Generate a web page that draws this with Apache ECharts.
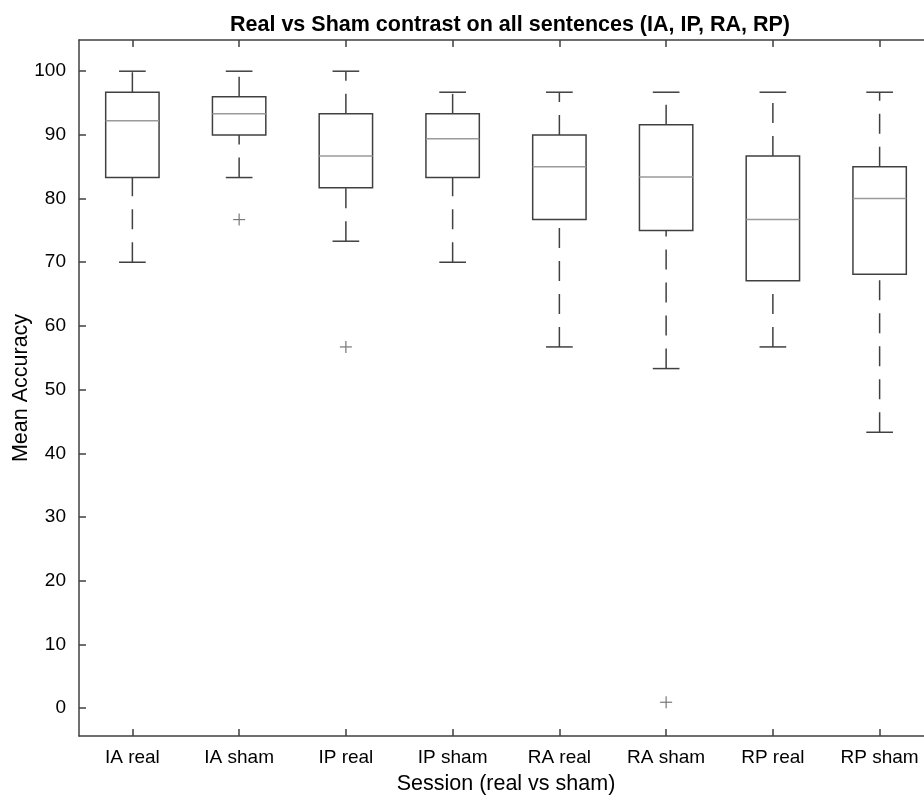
<!DOCTYPE html>
<html>
<head>
<meta charset="utf-8">
<script src="https://cdn.jsdelivr.net/npm/echarts@6/dist/echarts.min.js"></script>
<style>
html,body{margin:0;padding:0;background:#fff;}
#chart{width:924px;height:795px;}
</style>
</head>
<body>
<div id="chart"></div>
<script>
var categories = ['IA real','IA sham','IP real','IP sham','RA real','RA sham','RP real','RP sham'];
var whiskerLow  = [70.0, 83.3, 73.3, 70.0, 56.7, 53.3, 56.7, 43.3];
var q1          = [83.3, 90.0, 81.7, 83.3, 76.7, 75.0, 67.1, 68.1];
var medians     = [92.2, 93.3, 86.7, 89.4, 85.0, 83.4, 76.7, 80.0];
var q3          = [96.7, 96.0, 93.3, 93.3, 90.0, 91.6, 86.7, 85.0];
var whiskerHigh = [100.0, 100.0, 100.0, 96.7, 96.7, 96.7, 96.7, 96.7];
var outlierCat  = [1, 2, 5];
var outlierVal  = [76.7, 56.7, 0.9];
var yTicks = [0,10,20,30,40,50,60,70,80,90,100];

var FONT = '"Liberation Sans", Arial, Helvetica, sans-serif';
var LINE = '#404040';

var boxData = categories.map(function(c, i){
  return [i, whiskerLow[i], q1[i], medians[i], q3[i], whiskerHigh[i]];
});
var outData = outlierCat.map(function(c, i){ return [c, outlierVal[i]]; });

function renderBox(params, api){
  var idx = api.value(0);
  var pLow = api.coord([idx, api.value(1)]);
  var pQ1 = api.coord([idx, api.value(2)]);
  var pMed = api.coord([idx, api.value(3)]);
  var pQ3 = api.coord([idx, api.value(4)]);
  var pHigh = api.coord([idx, api.value(5)]);
  var band = api.size([1, 0])[0];
  var hw = band * 0.25;
  var cw = band * 0.125;
  var x = pQ1[0];
  var solid = {stroke: LINE, lineWidth: 1.5, fill: null};
  var dashed = {stroke: LINE, lineWidth: 1.5, lineDash: [20, 13], fill: null};
  return {
    type: 'group',
    children: [
      {type:'line', shape:{x1:x, y1:pLow[1], x2:x, y2:pQ1[1]}, style: dashed},
      {type:'line', shape:{x1:x, y1:pQ3[1], x2:x, y2:pHigh[1]}, style: dashed},
      {type:'line', shape:{x1:x-cw, y1:pLow[1], x2:x+cw, y2:pLow[1]}, style: solid},
      {type:'line', shape:{x1:x-cw, y1:pHigh[1], x2:x+cw, y2:pHigh[1]}, style: solid},
      {type:'rect', shape:{x:x-hw, y:pQ3[1], width:2*hw, height:pQ1[1]-pQ3[1]}, style:{stroke: LINE, lineWidth: 1.5, fill: null}},
      {type:'line', shape:{x1:x-hw, y1:pMed[1], x2:x+hw, y2:pMed[1]}, style:{stroke:'#9a9a9a', lineWidth:1.5}}
    ]
  };
}

function renderPlus(params, api){
  var p = api.coord([api.value(0), api.value(1)]);
  var s = 6;
  var st = {stroke:'#777777', lineWidth:1.2};
  return {
    type:'group',
    children:[
      {type:'line', shape:{x1:p[0]-s, y1:p[1], x2:p[0]+s, y2:p[1]}, style: st},
      {type:'line', shape:{x1:p[0], y1:p[1]-s, x2:p[0], y2:p[1]+s}, style: st}
    ]
  };
}

var chart = echarts.init(document.getElementById('chart'), null, {renderer:'canvas'});
var axisLineStyle = {color: LINE, width: 1.5};
chart.setOption({
  animation: false,
  backgroundColor: '#ffffff',
  title: {
    text: 'Real vs Sham contrast on all sentences (IA, IP, RA, RP)',
    left: 505, top: 9, textAlign: 'center',
    textStyle: {fontFamily: FONT, fontSize: 21.5, fontWeight: 'bold', color: '#000'}
  },
  grid: {left: 79, top: 40, width: 854, height: 696, containLabel: false, outerBoundsMode: 'none'},
  xAxis: [{
    type: 'category', data: categories, position: 'bottom',
    boundaryGap: true,
    axisLine: {show: true, onZero: false, lineStyle: axisLineStyle},
    axisTick: {show: true, inside: true, length: 7, alignWithLabel: true, lineStyle: axisLineStyle},
    axisLabel: {fontFamily: FONT, fontSize: 19, color: '#000', margin: 12, interval: 0},
    splitLine: {show: false},
    name: 'Session (real vs sham)', nameLocation: 'middle', nameGap: 37, nameMoveOverlap: false,
    nameTextStyle: {fontFamily: FONT, fontSize: 21.5, color: '#000'}
  }, {
    type: 'category', data: categories, position: 'top',
    boundaryGap: true,
    axisLine: {show: true, onZero: false, lineStyle: axisLineStyle},
    axisTick: {show: true, inside: true, length: 7, alignWithLabel: true, lineStyle: axisLineStyle},
    axisLabel: {show: false}, splitLine: {show: false}
  }],
  yAxis: [{
    type: 'value', min: -4.4, max: 104.9, position: 'left',
    axisLine: {show: true, onZero: false, lineStyle: axisLineStyle},
    axisTick: {show: true, inside: true, length: 7, customValues: yTicks, lineStyle: axisLineStyle},
    axisLabel: {fontFamily: FONT, fontSize: 19, color: '#000', margin: 13, customValues: yTicks},
    splitLine: {show: false},
    name: 'Mean Accuracy', nameLocation: 'middle', nameGap: 47, nameRotate: 90, nameMoveOverlap: false,
    nameTextStyle: {fontFamily: FONT, fontSize: 21.5, color: '#000'}
  }, {
    type: 'value', min: -4.4, max: 104.9, position: 'right',
    axisLine: {show: true, onZero: false, lineStyle: axisLineStyle},
    axisTick: {show: true, inside: true, length: 7, customValues: yTicks, lineStyle: axisLineStyle},
    axisLabel: {show: false}, splitLine: {show: false}
  }],
  series: [{
    type: 'custom', name: 'box', xAxisIndex: 0, yAxisIndex: 0,
    renderItem: renderBox, data: boxData, encode: {x: 0, y: [1,2,3,4,5]}, clip: false
  }, {
    type: 'custom', name: 'outliers', xAxisIndex: 0, yAxisIndex: 0,
    renderItem: renderPlus, data: outData, encode: {x: 0, y: 1}
  }]
});
</script>
</body>
</html>
